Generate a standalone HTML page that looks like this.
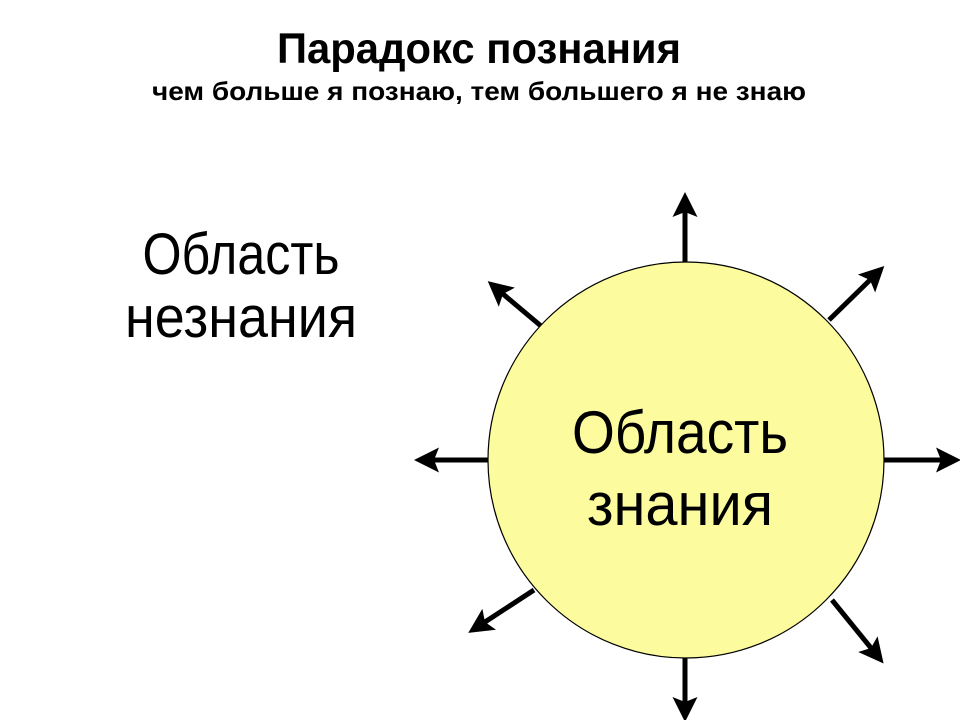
<!DOCTYPE html>
<html><head><meta charset="utf-8"><style>
html,body{margin:0;padding:0;background:#fff;}
svg{display:block;}
text{font-family:"Liberation Sans",sans-serif;fill:#000;}
</style></head><body>
<svg width="960" height="720" viewBox="0 0 960 720" xmlns="http://www.w3.org/2000/svg">
<defs>
<marker id="a" markerWidth="5" markerHeight="5" refX="1" refY="2.5" orient="auto" markerUnits="strokeWidth">
<path d="M0,0 L5,2.5 L0,5 L1,2.5 z" fill="#000"/>
</marker>
</defs>
<text x="479" y="63" font-size="43" font-weight="bold" text-anchor="middle" textLength="404" lengthAdjust="spacingAndGlyphs">Парадокс познания</text>
<text x="479" y="100" font-size="26" font-weight="bold" text-anchor="middle" textLength="654" lengthAdjust="spacingAndGlyphs">чем больше я познаю, тем большего я не знаю</text>
<text x="241" y="274" font-size="58" text-anchor="middle" textLength="197" lengthAdjust="spacingAndGlyphs">Область</text>
<text x="241" y="337" font-size="58" text-anchor="middle" textLength="232" lengthAdjust="spacingAndGlyphs">незнания</text>
<g stroke="#000" stroke-width="5" marker-end="url(#a)">
<line x1="685" y1="264" x2="685" y2="212"/>
<line x1="490" y1="460" x2="434" y2="460"/>
<line x1="884" y1="460" x2="941" y2="460"/>
<line x1="685" y1="656" x2="685" y2="702"/>
<line x1="541" y1="326" x2="503" y2="294"/>
<line x1="829" y1="320" x2="870" y2="280"/>
<line x1="534" y1="590" x2="485" y2="622"/>
<line x1="832" y1="600" x2="871" y2="648"/>
</g>
<ellipse cx="686" cy="460" rx="198" ry="198" fill="#fcfb9e" stroke="#000" stroke-width="1.2"/>
<text x="680" y="453" font-size="60" text-anchor="middle" textLength="216" lengthAdjust="spacingAndGlyphs">Область</text>
<text x="680" y="525" font-size="60" text-anchor="middle" textLength="186" lengthAdjust="spacingAndGlyphs">знания</text>
</svg>
</body></html>
